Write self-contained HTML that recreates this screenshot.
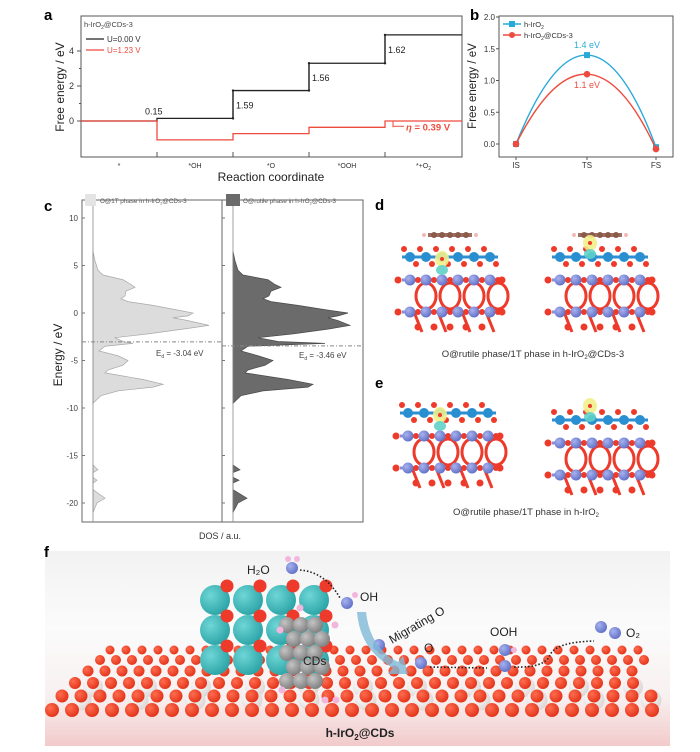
<!DOCTYPE html>
<html><head><meta charset="utf-8">
<style>
html,body{margin:0;padding:0;background:#fff;}
svg{display:block;font-family:"Liberation Sans",Arial,sans-serif;}
</style></head>
<body>
<svg id="fig" width="700" height="752" viewBox="0 0 700 752" xmlns="http://www.w3.org/2000/svg">
<defs>
<linearGradient id="fbg" x1="0" y1="0" x2="0" y2="1">
<stop offset="0" stop-color="#f2f2f2"/><stop offset="0.4" stop-color="#fbfbfb"/><stop offset="0.75" stop-color="#f8f0f0"/><stop offset="1" stop-color="#f2caca"/>
</linearGradient>
<radialGradient id="redball" cx="0.35" cy="0.35" r="0.7"><stop offset="0" stop-color="#ff6d50"/><stop offset="1" stop-color="#e23218"/></radialGradient>
<radialGradient id="whiteball" cx="0.35" cy="0.35" r="0.7"><stop offset="0" stop-color="#ffffff"/><stop offset="1" stop-color="#dcd6d6"/></radialGradient>
<radialGradient id="cyanball" cx="0.35" cy="0.35" r="0.7"><stop offset="0" stop-color="#6fd6d6"/><stop offset="1" stop-color="#2aa3a6"/></radialGradient>
<radialGradient id="grayball" cx="0.35" cy="0.35" r="0.7"><stop offset="0" stop-color="#c4c4c4"/><stop offset="1" stop-color="#7d7d7d"/></radialGradient>
<radialGradient id="blueball" cx="0.35" cy="0.35" r="0.7"><stop offset="0" stop-color="#a7b2ee"/><stop offset="1" stop-color="#5f6fc6"/></radialGradient>
</defs>

<text x="44" y="20" font-size="15" font-weight="bold">a</text>
<text x="470" y="20" font-size="15" font-weight="bold">b</text>
<text x="44" y="211" font-size="15" font-weight="bold">c</text>
<text x="375" y="210" font-size="15" font-weight="bold">d</text>
<text x="375" y="388" font-size="15" font-weight="bold">e</text>

<g id="pa"></g>
<g id="pb"></g>
<g id="pc"></g>
<g id="pd"></g>
<g id="pf"></g>
<text x="44" y="557" font-size="15" font-weight="bold">f</text>
</svg>
<script>
// ---------- Panel a data ----------
const aCategories = ["*", "*OH", "*O", "*OOH", "*+O2"];
const aU0 = [0, 0.15, 1.74, 3.30, 4.92];
const aU123 = [0, -1.08, -0.72, -0.36, 0];
const aStepLabels = ["0.15", "1.59", "1.56", "1.62"];
const aTicks = [0, 2, 4];
// ---------- Panel b data ----------
const bCategories = ["IS", "TS", "FS"];
const bIrO2 = [0, 1.4, -0.05];
const bCDs = [0, 1.1, -0.08];
const bTicks = [0, 0.5, 1.0, 1.5, 2.0];
// ---------- Panel c data ----------
const cEnergy = [6.5,5.5,4.5,4,3.5,3,2.7,2.3,1.8,1.5,1.2,0.8,0.3,0,-0.3,-0.5,-0.8,-1.3,-1.7,-2.2,-2.6,-3.0,-3.2,-3.5,-4,-4.5,-5,-5.5,-6,-6.3,-7,-7.5,-7.8,-8.2,-8.7,-9.5];
const cDos1T = [0,2,5,10,30,38,42,33,32,28,35,60,85,100,95,80,95,116,90,55,22,30,40,12,6,25,35,30,15,12,50,70,60,25,8,0];
const cDosRutile = [0,2,5,10,35,42,48,38,36,30,38,65,95,115,105,95,105,117,95,60,25,45,92,15,8,25,40,32,15,12,55,80,75,30,8,0];
const cSemiEnergy = [-16.0,-16.5,-16.8,-17.3,-17.6,-17.9,-18.6,-19.5,-20,-21];
const cSemi1T = [0,5,0,0,4,0,0,12,4,0];
const cSemiRutile = [0,7,0,0,6,0,0,14,5,0];
const cEd = [-3.04, -3.46];
const cTicks = [10, 5, 0, -5, -10, -15, -20];

const NS = "http://www.w3.org/2000/svg";
function mk(parent, tag, attrs, text){
  const e = document.createElementNS(NS, tag);
  for (const k in attrs) e.setAttribute(k, attrs[k]);
  if (text !== undefined) e.textContent = text;
  parent.appendChild(e);
  return e;
}

// ================= PANEL A =================
(function(){
  const g = document.getElementById('pa');
  const L=81, R=462, T=16, B=157;
  const bounds=[81,157,233,309,385,462];
  const ya = v => 121 - v*17.5;
  const frame = mk(g,'rect',{x:L,y:T,width:R-L,height:B-T,fill:'none',stroke:'#555','stroke-width':1});
   
  aTicks.forEach(t=>{
    const y=ya(t);
    mk(g,'line',{x1:L,x2:L-4,y1:y,y2:y,stroke:'#555'});
    const tx=mk(g,'text',{x:L-7,y:y+3,'font-size':9,'text-anchor':'end',fill:'#333'},t);
     
  });
  [1,3].forEach(t=>mk(g,'line',{x1:L,x2:L-2,y1:ya(t),y2:ya(t),stroke:'#555'}));
  for(let i=1;i<5;i++) mk(g,'line',{x1:bounds[i],x2:bounds[i],y1:B,y2:B-5,stroke:'#555'});
  aCategories.forEach((c,i)=>{
    const cx=(bounds[i]+bounds[i+1])/2;
    const t=mk(g,'text',{x:cx,y:168,'font-size':7,'text-anchor':'middle',fill:'#333'});
    if(c==="*+O2"){ t.textContent="*+O"; mk(t,'tspan',{'font-size':5,dy:2},"2"); }
    else t.textContent=c;
     
  });
  const xt=mk(g,'text',{x:271,y:181,'font-size':12,'text-anchor':'middle',fill:'#222'},"Reaction coordinate");
   
  const yt=mk(g,'text',{x:0,y:0,'font-size':12,'text-anchor':'middle',fill:'#222',transform:'translate(64,87) rotate(-90)'},"Free energy / eV");
   
  function stepPath(vals){
    let d="";
    vals.forEach((v,i)=>{ const y=ya(v); d += (i===0?`M${bounds[i]},${y}`:`L${bounds[i]},${y}`) + `L${bounds[i+1]},${y}`; });
    return d;
  }
  const p0=mk(g,'path',{d:stepPath(aU0),fill:'none',stroke:'#222','stroke-width':1.3});
   
  const p1=mk(g,'path',{d:stepPath(aU123),fill:'none',stroke:'#ee4b3e','stroke-width':1.3});
   
  for(let i=1;i<5;i++){
    const x=bounds[i], y1=ya(aU0[i-1]), y2=ya(aU0[i]);
    if(i>1){ mk(g,'line',{x1:x,x2:x,y1:y1,y2:y2,stroke:'#222','stroke-width':1.2});
      mk(g,'circle',{cx:x,cy:y1,r:1.2,fill:'#222'}); mk(g,'circle',{cx:x,cy:y2,r:1.2,fill:'#222'});
      const lb=mk(g,'text',{x:x+3,y:(y1+y2)/2+4,'font-size':9,fill:'#222'},aStepLabels[i-1]);
       
    } else {
      const lb=mk(g,'text',{x:x-12,y:y2-4,'font-size':9,fill:'#222'},aStepLabels[0]);
       
    }
  }
  const ex=bounds[4]+8;
  mk(g,'line',{x1:ex,x2:ex,y1:ya(aU123[3]),y2:ya(aU123[4]),stroke:'#ee4b3e','stroke-width':1});
  mk(g,'line',{x1:ex,x2:404,y1:ya(-0.3),y2:ya(-0.3),stroke:'#ee4b3e','stroke-width':1});
  const et=mk(g,'text',{x:406,y:ya(-0.3)+4,'font-size':9.5,'font-weight':'bold',fill:'#ee4b3e'});
  mk(et,'tspan',{'font-style':'italic'},"η"); mk(et,'tspan',{}," = 0.39 V");
   
  const lg=mk(g,'g',{});
   
  const lt=mk(lg,'text',{x:84,y:27,'font-size':7.5,fill:'#444'},"h-IrO");
  mk(lt,'tspan',{'font-size':5,dy:2},"2"); mk(lt,'tspan',{dy:-2},"@CDs-3");
  mk(lg,'line',{x1:86,x2:104,y1:39,y2:39,stroke:'#222','stroke-width':1.3});
  mk(lg,'text',{x:107,y:42,'font-size':8,fill:'#333'},"U=0.00 V");
  mk(lg,'line',{x1:86,x2:104,y1:50,y2:50,stroke:'#ee4b3e','stroke-width':1.3});
  mk(lg,'text',{x:107,y:53,'font-size':8,fill:'#ee4b3e'},"U=1.23 V");
})();

// ================= PANEL B =================
(function(){
  const g=document.getElementById('pb');
  const L=499,R=673,T=16,B=157;
  const xs=[516,587,656];
  const yb=v=>144 - v*63.5;
  const fr=mk(g,'rect',{x:L,y:T,width:R-L,height:B-T,fill:'none',stroke:'#555'});
   
  bTicks.forEach(t=>{
    const y=yb(t);
    mk(g,'line',{x1:L,x2:L-3,y1:y,y2:y,stroke:'#555'});
    const tx=mk(g,'text',{x:L-4,y:y+3,'font-size':8,'text-anchor':'end',fill:'#333'},t.toFixed(1));
     
  });
  bCategories.forEach((c,i)=>{
    mk(g,'line',{x1:xs[i],x2:xs[i],y1:B,y2:B+3,stroke:'#555'});
    const t=mk(g,'text',{x:xs[i],y:168,'font-size':8,'text-anchor':'middle',fill:'#333'},c);
     
  });
  const yt=mk(g,'text',{x:0,y:0,'font-size':11.5,'text-anchor':'middle',fill:'#222',transform:'translate(476,86) rotate(-90)'},"Free energy / eV");
   
  function curve(vals,color,name,marker){
    const p0=[xs[0],yb(vals[0])],p1=[xs[1],yb(vals[1])],p2=[xs[2],yb(vals[2])];
    const c=[2*p1[0]-(p0[0]+p2[0])/2, 2*p1[1]-(p0[1]+p2[1])/2];
    const p=mk(g,'path',{d:`M${p0[0]},${p0[1]}Q${c[0]},${c[1]} ${p2[0]},${p2[1]}`,fill:'none',stroke:color,'stroke-width':1.4});
     
    vals.forEach((v,i)=>{
      let m;
      if(marker==='sq') m=mk(g,'rect',{x:xs[i]-3,y:yb(v)-3,width:6,height:6,fill:color});
      else m=mk(g,'circle',{cx:xs[i],cy:yb(v),r:3.3,fill:color});
       
    });
  }
  curve(bIrO2,'#29a9d8','series-h-iro2','sq');
  curve(bCDs,'#ee4b3e','series-h-iro2-cds-3','ci');
  const l1=mk(g,'text',{x:xs[1],y:yb(bIrO2[1])-7,'font-size':9,'text-anchor':'middle',fill:'#29a9d8'},bIrO2[1].toFixed(1)+" eV");
   
  const l2=mk(g,'text',{x:xs[1],y:yb(bCDs[1])+14,'font-size':9,'text-anchor':'middle',fill:'#ee4b3e'},bCDs[1].toFixed(1)+" eV");
   
  const lg=mk(g,'g',{});  
  mk(lg,'line',{x1:503,x2:521,y1:24,y2:24,stroke:'#29a9d8','stroke-width':1.4});
  mk(lg,'rect',{x:509,y:21,width:6,height:6,fill:'#29a9d8'});
  const t1=mk(lg,'text',{x:524,y:27,'font-size':7.5,fill:'#333'},"h-IrO"); mk(t1,'tspan',{'font-size':5,dy:2},"2");
  mk(lg,'line',{x1:503,x2:521,y1:35,y2:35,stroke:'#ee4b3e','stroke-width':1.4});
  mk(lg,'circle',{cx:512,cy:35,r:3,fill:'#ee4b3e'});
  const t2=mk(lg,'text',{x:524,y:38,'font-size':7.5,fill:'#333'},"h-IrO"); mk(t2,'tspan',{'font-size':5,dy:2},"2"); mk(t2,'tspan',{dy:-2},"@CDs-3");
})();

// ================= PANEL C =================
(function(){
  const g=document.getElementById('pc');
  const L=82,M=222,R=363,T=200,B=522;
  const yc=v=>313 - v*9.5;
  const fr=mk(g,'rect',{x:L,y:T,width:R-L,height:B-T,fill:'none',stroke:'#666'});
   
  mk(g,'line',{x1:M,x2:M,y1:T,y2:B,stroke:'#666'});
  cTicks.forEach(t=>{
    const y=yc(t);
    mk(g,'line',{x1:L,x2:L+3,y1:y,y2:y,stroke:'#777'});
    mk(g,'line',{x1:M,x2:M+3,y1:y,y2:y,stroke:'#777'});
    const tx=mk(g,'text',{x:L-4,y:y+3,'font-size':8,'text-anchor':'end',fill:'#444'},t);
     
  });
  const yt=mk(g,'text',{x:0,y:0,'font-size':12,'text-anchor':'middle',fill:'#222',transform:'translate(62,355) rotate(-90)'},"Energy / eV");
   
  const xt=mk(g,'text',{x:220,y:539,'font-size':9,'text-anchor':'middle',fill:'#333'},"DOS / a.u.");
   
  function area(x0,E,D,fill,stroke,name){
    let d=`M${x0},${yc(E[0])}`;
    E.forEach((e,i)=>{ d+=`L${x0+D[i]},${yc(e)}`; });
    d+=`L${x0},${yc(E[E.length-1])}Z`;
    const p=mk(g,'path',{d:d,fill:fill,stroke:stroke,'stroke-width':0.7});
     
  }
  area(93,cEnergy,cDos1T,'#dcdcdc','#a8a8a8','dos-1t-valence');
  area(93,cSemiEnergy,cSemi1T,'#dcdcdc','#a8a8a8','dos-1t-semicore');
  area(233,cEnergy,cDosRutile,'#6b6b6b','#4a4a4a','dos-rutile-valence');
  area(233,cSemiEnergy,cSemiRutile,'#6b6b6b','#4a4a4a','dos-rutile-semicore');
  mk(g,'line',{x1:93,x2:93,y1:T,y2:B,stroke:'#888','stroke-width':0.8});
  mk(g,'line',{x1:233,x2:233,y1:T,y2:B,stroke:'#888','stroke-width':0.8});
  const e1=mk(g,'line',{x1:L,x2:M,y1:yc(cEd[0]),y2:yc(cEd[0]),stroke:'#888','stroke-dasharray':'4 2 1 2'});
   
  const e2=mk(g,'line',{x1:M,x2:R,y1:yc(cEd[1]),y2:yc(cEd[1]),stroke:'#888','stroke-dasharray':'4 2 1 2'});
   
  function edLabel(x,y,v,name){
    const t=mk(g,'text',{x:x,y:y,'font-size':8,fill:'#444'},"E"); mk(t,'tspan',{'font-size':5,dy:2},"d"); mk(t,'tspan',{dy:-2},` = ${v.toFixed(2)} eV`);
     
  }
  edLabel(156,yc(cEd[0])+14,cEd[0],'ed-label-1t');
  edLabel(299,yc(cEd[1])+12,cEd[1],'ed-label-rutile');
  const lg1=mk(g,'g',{});  
  mk(lg1,'rect',{x:85,y:194,width:11,height:12,fill:'#e4e4e4'});
  const t1=mk(lg1,'text',{x:100,y:203,'font-size':6.3,fill:'#555'},"O@1T phase in h-IrO"); mk(t1,'tspan',{'font-size':4,dy:1.5},"2"); mk(t1,'tspan',{dy:-1.5},"@CDs-3");
  const lg2=mk(g,'g',{});  
  mk(lg2,'rect',{x:226,y:194,width:14,height:12,fill:'#6b6b6b'});
  const t2=mk(lg2,'text',{x:243,y:203,'font-size':6.3,fill:'#555'},"O@rutile phase in h-IrO"); mk(t2,'tspan',{'font-size':4,dy:1.5},"2"); mk(t2,'tspan',{dy:-1.5},"@CDs-3");
})();

// ================= PANELS D/E (structures) =================
(function(){
  const g=document.getElementById('pd');
  function structure(cx,top,withCD,blobSide){
    const s=mk(g,'g',{});
     
    if(withCD){
      const cd=mk(s,'g',{});  
      mk(cd,'line',{x1:cx-22,x2:cx+22,y1:top-12,y2:top-12,stroke:'#a06e60','stroke-width':4});
      for(let i=0;i<5;i++) mk(cd,'circle',{cx:cx-16+i*8,cy:top-12,r:3,fill:'#8a5a4a'});
      mk(cd,'circle',{cx:cx-26,cy:top-12,r:2,fill:'#f0b8b8'}); mk(cd,'circle',{cx:cx+26,cy:top-12,r:2,fill:'#f0b8b8'});
    }
    for(let r=0;r<3;r++){
      const y=top+ (r===0?10:r===1?33:65);
      mk(s,'line',{x1:cx-48,x2:cx+48,y1:y,y2:y,stroke:r===0?'#2f8fd0':'#8a8fd8','stroke-width':3});
    }
    for(let i=0;i<4;i++){
      const x=cx-36+i*24;
      mk(s,'ellipse',{cx:x+12,cy:top+49,rx:10,ry:13,fill:'none',stroke:'#ee3a2a','stroke-width':3});
      mk(s,'line',{x1:x,x2:x+8,y1:top+65,y2:top+85,stroke:'#ee3a2a','stroke-width':3});
    }
    for(let i=0;i<6;i++){
      const x=cx-40+i*16;
      mk(s,'circle',{cx:x,cy:top+10,r:5,fill:'#2a8fd0'});
      mk(s,'circle',{cx:x-6,cy:top+2,r:3,fill:'#ee3a2a'});
      mk(s,'circle',{cx:x+6,cy:top+17,r:3,fill:'#ee3a2a'});
    }
    [33,65].forEach(dy=>{
      for(let i=0;i<6;i++){
        const x=cx-40+i*16;
        mk(s,'circle',{cx:x,cy:top+dy,r:5.5,fill:'url(#blueball)'});
        mk(s,'circle',{cx:x+8,cy:top+dy,r:3,fill:'#ee3a2a'});
      }
      mk(s,'circle',{cx:cx-52,cy:top+dy,r:3.5,fill:'#ee3a2a'});
      mk(s,'circle',{cx:cx+52,cy:top+dy,r:3.5,fill:'#ee3a2a'});
    });
    for(let i=0;i<5;i++) mk(s,'circle',{cx:cx-32+i*16,cy:top+80,r:3.5,fill:'#ee3a2a'});
    const bx=blobSide==='mid'?cx-8:cx-10, by=blobSide==='mid'?top+12:top-4;
    mk(s,'ellipse',{cx:bx,cy:by,rx:7,ry:8,fill:'#f1f08a',opacity:0.9});
    mk(s,'ellipse',{cx:bx,cy:by+11,rx:6,ry:5,fill:'#5fd0c8',opacity:0.9});
    mk(s,'circle',{cx:bx,cy:by,r:2,fill:'#ee3a2a'});
  }
  structure(450,247,true,'mid');
  structure(600,247,true,'top');
  structure(448,403,false,'mid');
  structure(600,410,false,'top');
  const c1=mk(g,'text',{x:533,y:357,'font-size':9.5,'text-anchor':'middle',fill:'#333'},"O@rutile phase/1T phase in h-IrO");
  mk(c1,'tspan',{'font-size':6,dy:2},"2"); mk(c1,'tspan',{dy:-2},"@CDs-3");
   
  const c2=mk(g,'text',{x:526,y:515,'font-size':9.5,'text-anchor':'middle',fill:'#333'},"O@rutile phase/1T phase in h-IrO");
  mk(c2,'tspan',{'font-size':6,dy:2},"2");
   
})();

// ================= PANEL F (illustration) =================
(function(){
  const g=document.getElementById('pf');
  const bg=mk(g,'rect',{x:45,y:551,width:625,height:195,fill:'url(#fbg)'});
   
  const slab=mk(g,'g',{});  
  const rows=[[650,4.5,16,110],[660,5,16,100],[671,5.5,17,88],[683,6,18,75],[696,6.5,19,62],[710,7,20,52]];
  rows.forEach((rw,r)=>{
    const [y,rad,sp,x0]=rw;
    const xEnd=655 - (5-r)*2;
    if(r===3||r===4){
      for(let x=x0+sp; x<xEnd; x+=sp*3) mk(slab,'circle',{cx:x,cy:y+4,r:rad+4,fill:'url(#whiteball)'});
    }
    for(let x=x0; x<xEnd; x+=sp) mk(slab,'circle',{cx:x,cy:y,r:rad,fill:'url(#redball)'});
  });
  const cl=mk(g,'g',{});  
  for(let r=0;r<3;r++) for(let c=0;c<4;c++){
    const x=215+c*33, y=600+r*30;
    mk(cl,'circle',{cx:x,cy:y,r:15,fill:'url(#cyanball)'});
    mk(cl,'circle',{cx:x+12,cy:y-14,r:6.5,fill:'#ee3a2a'});
  }
  const cd=mk(g,'g',{});  
  for(let r=0;r<5;r++) for(let c=0;c<3;c++) mk(cd,'circle',{cx:287+c*14+(r%2)*7,cy:625+r*14,r:8,fill:'url(#grayball)'});
  [[280,630],[335,625],[282,690],[336,700],[300,608],[325,700]].forEach(p=>mk(cd,'circle',{cx:p[0],cy:p[1],r:3.5,fill:'#f2b6dd'}));
  const cdt=mk(g,'text',{x:303,y:665,'font-size':12,fill:'#222'},"CDs");
   
  function mol(x,y){ mk(g,'circle',{cx:x,cy:y,r:6,fill:'url(#blueball)'}); }
  mol(292,568); mk(g,'circle',{cx:288,cy:559,r:3,fill:'#f2b6dd'}); mk(g,'circle',{cx:297,cy:559,r:3,fill:'#f2b6dd'});
  mol(347,603); mk(g,'circle',{cx:355,cy:595,r:3,fill:'#f2b6dd'});
  mol(379,645); mol(421,663); mol(505,650); mol(505,666); mk(g,'circle',{cx:514,cy:650,r:3,fill:'#f2b6dd'});
  mol(601,627); mol(615,633);
  const arr=mk(g,'g',{fill:'none',stroke:'#222','stroke-width':1.6,'stroke-dasharray':'1.5 2'});
   
  mk(arr,'path',{d:'M300,570 Q325,572 340,598'});
  mk(arr,'path',{d:'M430,667 L487,668'});
  mk(arr,'path',{d:'M514,667 Q545,668 550,655 Q556,642 594,641'});
  const mig=mk(g,'path',{d:'M357,612 Q360,650 393,668 L388,674 L408,674 L403,656 L398,662 Q370,648 366,612 Z',fill:'#7fb9d8',opacity:0.8});
   
  const labs=[["H₂O",247,574],["OH",360,601],["O",424,652],["OOH",490,636],["O₂",626,637]];
  labs.forEach(l=>{ const t=mk(g,'text',{x:l[1],y:l[2],'font-size':12,fill:'#222'},l[0]);   });
  const mo=mk(g,'text',{x:0,y:0,'font-size':12,fill:'#222',transform:'translate(392,644) rotate(-30)'},"Migrating O");
   
  const tl=mk(g,'text',{x:360,y:737,'font-size':12,'font-weight':'bold','text-anchor':'middle',fill:'#222'},"h-IrO");
  mk(tl,'tspan',{'font-size':8,dy:3},"2"); mk(tl,'tspan',{dy:-3},"@CDs");
   
})();
</script>
</body></html>
